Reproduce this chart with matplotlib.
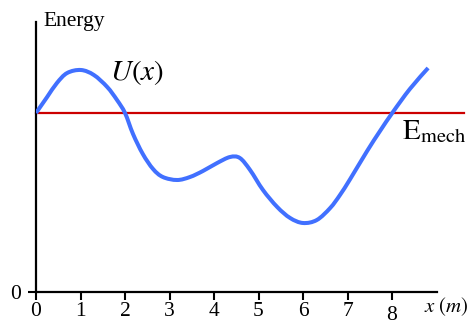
import matplotlib
matplotlib.use("Agg")
import matplotlib.pyplot as plt
from matplotlib.path import Path
from matplotlib.patches import PathPatch
from matplotlib.transforms import ScaledTranslation

plt.rcParams['font.family'] = 'serif'
plt.rcParams['font.serif'] = ['Liberation Serif', 'DejaVu Serif']
plt.rcParams['mathtext.fontset'] = 'stix'

# potential energy curve
x_pos = [0.00, 0.25, 0.47, 0.70, 1.01, 1.30, 1.60, 1.82, 2.00, 2.18, 2.40,
         2.63, 2.85, 3.17, 3.46, 3.75, 4.07, 4.36, 4.58, 4.81, 5.10, 5.42,
         5.71, 6.00, 6.31, 6.61, 6.83, 7.06, 7.44, 7.73, 8.02, 8.40, 8.81]
energy = [179, 195, 209, 219, 222, 217, 205, 192, 179, 158, 138,
          123, 115, 112, 115, 121, 129, 135, 134, 122, 102, 85,
          74, 69, 72, 84, 97, 113, 141, 161, 180, 203, 224]
e_mech = 179
e_mech_x = [0, 9.62]
x_ticks = [0, 1, 2, 3, 4, 5, 6, 7, 8]
x_labels = ['0', '1', '2', '3', '4', '5', '6', '7', '8']

fig = plt.figure(figsize=(4.74, 3.2), dpi=100)
ax = fig.add_axes([36/474, 28/320, 401/474, 270/320])
ax.set_xlim(0, 9.01)
ax.set_ylim(0, 270)

# smooth curve through the read points (Catmull-Rom as cubic bezier)
pts = list(zip(x_pos, energy))
verts = [pts[0]]
codes = [Path.MOVETO]
n = len(pts)
for i in range(n - 1):
    p0 = pts[max(i - 1, 0)]
    p1 = pts[i]
    p2 = pts[i + 1]
    p3 = pts[min(i + 2, n - 1)]
    c1 = (p1[0] + (p2[0] - p0[0]) / 6, p1[1] + (p2[1] - p0[1]) / 6)
    c2 = (p2[0] - (p3[0] - p1[0]) / 6, p2[1] - (p3[1] - p1[1]) / 6)
    verts += [c1, c2, p2]
    codes += [Path.CURVE4] * 3
curve = PathPatch(Path(verts, codes), facecolor='none', edgecolor='#4170ff',
                  lw=2.9, capstyle='butt', joinstyle='round', zorder=3)
ax.add_patch(curve)

ax.plot(e_mech_x, [e_mech, e_mech], color='#cc0000', lw=1.6, clip_on=False,
        zorder=2)

for s in ['top', 'right']:
    ax.spines[s].set_visible(False)
for s in ['left', 'bottom']:
    ax.spines[s].set_linewidth(1.6)

ax.set_xticks(x_ticks, x_labels)
ax.set_yticks([0], ['0'])
ax.tick_params(axis='x', direction='out', length=6, width=1.5, pad=1,
               labelsize=15.5)
ax.tick_params(axis='y', direction='out', length=6, width=1.5, pad=5,
               labelsize=15.5)
# the "8" sits a little lower in the original
lab8 = ax.get_xticklabels()[-1]
lab8.set_transform(lab8.get_transform() +
                   ScaledTranslation(0, -3/72, fig.dpi_scale_trans))

fig.text(43/474, 1 - 26/320, 'Energy', fontsize=15.5, ha='left',
         va='baseline')
fig.text(110/474, 1 - 80/320, r'$U(x)$', fontsize=21, ha='left',
         va='baseline')
fig.text(402/474, 1 - 139/320, r'$\mathrm{E}_{\mathrm{mech}}$', fontsize=21,
         ha='left', va='baseline')
fig.text(424/474, 1 - 312/320, r'$x\ (m)$', fontsize=15, ha='left',
         va='baseline')

plt.savefig('out.png', dpi=100)
plt.close()
